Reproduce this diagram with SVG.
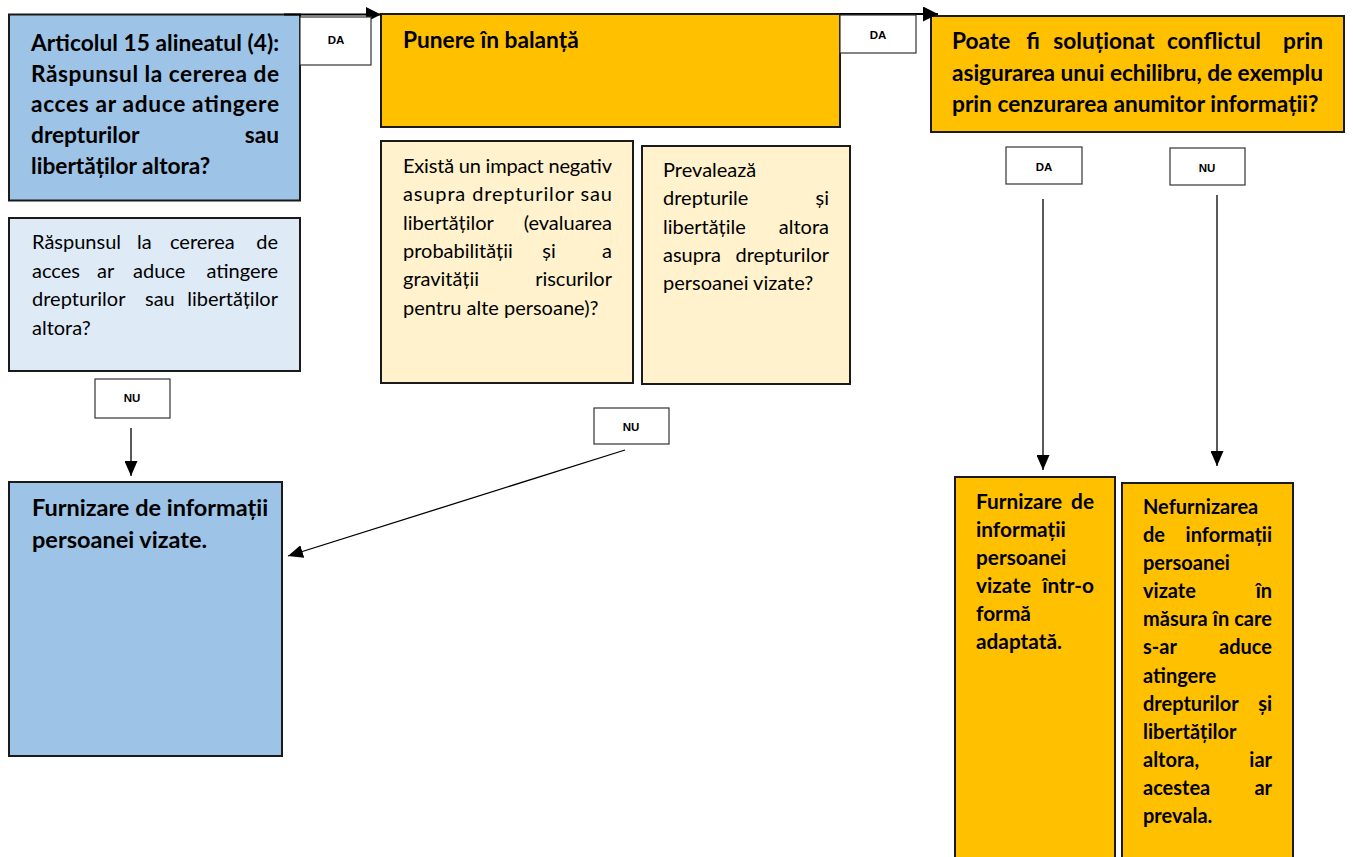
<svg xmlns="http://www.w3.org/2000/svg" width="1353" height="857" viewBox="0 0 1353 857">
<defs>
<style>
.box{stroke:#1a1a1a;stroke-width:2}
.lb{fill:#fff;stroke:#333;stroke-width:1.2}
.dk{fill:#9DC3E6}.lt{fill:#DEEBF7}.or{fill:#FFC000}.ye{fill:#FFF2CC}
text{font-family:Lato,'Liberation Sans',sans-serif;fill:#000}
.b{font-weight:700;font-size:22.7px}
.bl{font-weight:700;font-size:23.5px}
.b8{font-weight:700;font-size:20.8px}
.bs{font-weight:700;font-size:20px}
.r{font-weight:400;font-size:20px}
.lbl{font-family:'Liberation Sans',Arial,sans-serif;font-weight:700;font-size:11.5px;text-anchor:middle}
.m{text-anchor:middle}.e{text-anchor:end}
.cn{fill:none;stroke:#000;stroke-width:1.3}
.cn2{fill:none;stroke:#000;stroke-width:2}
</style>
<marker id="ah" markerUnits="userSpaceOnUse" markerWidth="15" markerHeight="13" refX="15" refY="6.5" orient="auto">
<path d="M0,0 L15,6.5 L0,13 z" fill="#000"/>
</marker>
<marker id="ahb" markerUnits="userSpaceOnUse" markerWidth="15" markerHeight="15" refX="15" refY="7.5" orient="auto">
<path d="M0,0 L15,7.5 L0,15 z" fill="#000"/>
</marker>
</defs>
<rect width="1353" height="857" fill="#fff"/>

<g id="n1">
<rect class="box dk" x="9" y="14.5" width="291" height="186"/>
<text class="b" x="31" y="51" textLength="248" lengthAdjust="spacing">Articolul 15 alineatul (4):</text>
<text class="b" x="31" y="82" textLength="248" lengthAdjust="spacing">Răspunsul la cererea de</text>
<text class="b" x="31" y="112" textLength="248" lengthAdjust="spacing">acces ar aduce atingere</text>
<text class="b" x="31" y="143">drepturilor</text><text class="b e" x="279" y="143">sau</text>
<text class="b" x="31" y="174">libertăților altora?</text>
</g>

<g id="n2">
<rect class="box or" x="381" y="14" width="459" height="113"/>
<text class="b" x="403" y="48">Punere în balanță</text>
</g>

<g id="n3">
<rect class="box or" x="931" y="16" width="413" height="116"/>
<text class="b" x="952" y="49">Poate</text><text class="b m" x="1033" y="49">fi</text><text class="b m" x="1104" y="49">soluționat</text><text class="b m" x="1214" y="49">conflictul</text><text class="b e" x="1323" y="49">prin</text>
<text class="b" x="952" y="81" textLength="371" lengthAdjust="spacing">asigurarea unui echilibru, de exemplu</text>
<text class="b" x="952" y="112">prin cenzurarea anumitor informații?</text>
</g>

<g id="n4">
<rect class="box lt" x="9" y="218" width="291" height="153"/>
<text class="r" x="32" y="249">Răspunsul</text><text class="r" x="137" y="249">la</text><text class="r" x="170" y="249">cererea</text><text class="r e" x="278" y="249">de</text>
<text class="r" x="32" y="278">acces</text><text class="r" x="97" y="278">ar</text><text class="r" x="133" y="278">aduce</text><text class="r e" x="278" y="278">atingere</text>
<text class="r" x="32" y="306">drepturilor</text><text class="r" x="145" y="306">sau</text><text class="r e" x="278" y="306">libertăților</text>
<text class="r" x="32" y="335">altora?</text>
</g>

<g id="n5">
<rect class="box dk" x="9" y="482" width="273" height="274"/>
<text class="bl" x="32" y="516">Furnizare de informații</text>
<text class="bl" x="32" y="548">persoanei vizate.</text>
</g>

<g id="n6">
<rect class="box ye" x="381" y="141" width="252" height="242"/>
<text class="r" x="403" y="173" textLength="209" lengthAdjust="spacing">Există un impact negativ</text>
<text class="r" x="403" y="201" textLength="209" lengthAdjust="spacing">asupra drepturilor sau</text>
<text class="r" x="403" y="230">libertăților</text><text class="r e" x="612" y="230">(evaluarea</text>
<text class="r" x="403" y="258">probabilității</text><text class="r m" x="549" y="258">și</text><text class="r e" x="612" y="258">a</text>
<text class="r" x="403" y="286">gravității</text><text class="r e" x="612" y="286">riscurilor</text>
<text class="r" x="403" y="315">pentru alte persoane)?</text>
</g>

<g id="n7">
<rect class="box ye" x="642" y="146" width="208" height="238"/>
<text class="r" x="663" y="177">Prevalează</text>
<text class="r" x="663" y="205">drepturile</text><text class="r e" x="829" y="205">și</text>
<text class="r" x="663" y="234">libertățile</text><text class="r e" x="829" y="234">altora</text>
<text class="r" x="663" y="262">asupra</text><text class="r e" x="829" y="262">drepturilor</text>
<text class="r" x="663" y="290">persoanei vizate?</text>
</g>

<g id="n8">
<rect class="box or" x="955" y="477" width="160" height="390"/>
<text class="b8" x="976" y="509">Furnizare</text><text class="b8 e" x="1094" y="509">de</text>
<text class="b8" x="976" y="537">informații</text>
<text class="b8" x="976" y="565">persoanei</text>
<text class="b8" x="976" y="593">vizate</text><text class="b8 e" x="1094" y="593">într-o</text>
<text class="b8" x="976" y="621">formă</text>
<text class="b8" x="976" y="649">adaptată.</text>
</g>

<g id="n9">
<rect class="box or" x="1122" y="483" width="171" height="390"/>
<text class="bs" x="1143" y="514">Nefurnizarea</text>
<text class="bs" x="1143" y="542">de</text><text class="bs e" x="1272" y="542">informații</text>
<text class="bs" x="1143" y="570">persoanei</text>
<text class="bs" x="1143" y="598">vizate</text><text class="bs e" x="1272" y="598">în</text>
<text class="bs" x="1143" y="626" textLength="129" lengthAdjust="spacing">măsura în care</text>
<text class="bs" x="1143" y="654">s-ar</text><text class="bs e" x="1272" y="654">aduce</text>
<text class="bs" x="1143" y="683">atingere</text>
<text class="bs" x="1143" y="711">drepturilor</text><text class="bs e" x="1272" y="711">și</text>
<text class="bs" x="1143" y="739">libertăților</text>
<text class="bs" x="1143" y="767">altora,</text><text class="bs e" x="1272" y="767">iar</text>
<text class="bs" x="1143" y="795">acestea</text><text class="bs e" x="1272" y="795">ar</text>
<text class="bs" x="1143" y="823">prevala.</text>
</g>

<g id="connectors">
<path class="cn2" d="M284 14.5 H381" marker-end="url(#ahb)"/>
<path class="cn2" d="M840 14 H938" marker-end="url(#ahb)"/>
<path class="cn" d="M1043 199 V470" marker-end="url(#ah)"/>
<path class="cn" d="M1217 195 V466" marker-end="url(#ah)"/>
<path class="cn" d="M131 428 V476" marker-end="url(#ah)"/>
<path class="cn" d="M625 450 L288 556" marker-end="url(#ah)"/>
</g>

<g id="labels">
<g id="l-da1"><rect class="lb" x="300" y="17" width="71" height="48"/><text class="lbl" x="336" y="44">DA</text></g>
<g id="l-da2"><rect class="lb" x="840" y="15" width="76" height="38"/><text class="lbl" x="878" y="39">DA</text></g>
<g id="l-da3"><rect class="lb" x="1006" y="147" width="76" height="37"/><text class="lbl" x="1044" y="171">DA</text></g>
<g id="l-nu3"><rect class="lb" x="1170" y="148" width="75" height="37"/><text class="lbl" x="1207" y="172">NU</text></g>
<g id="l-nu1"><rect class="lb" x="95" y="379" width="75" height="39"/><text class="lbl" x="132" y="402">NU</text></g>
<g id="l-nu2"><rect class="lb" x="594" y="408" width="75" height="36"/><text class="lbl" x="631" y="431">NU</text></g>
</g>
</svg>
